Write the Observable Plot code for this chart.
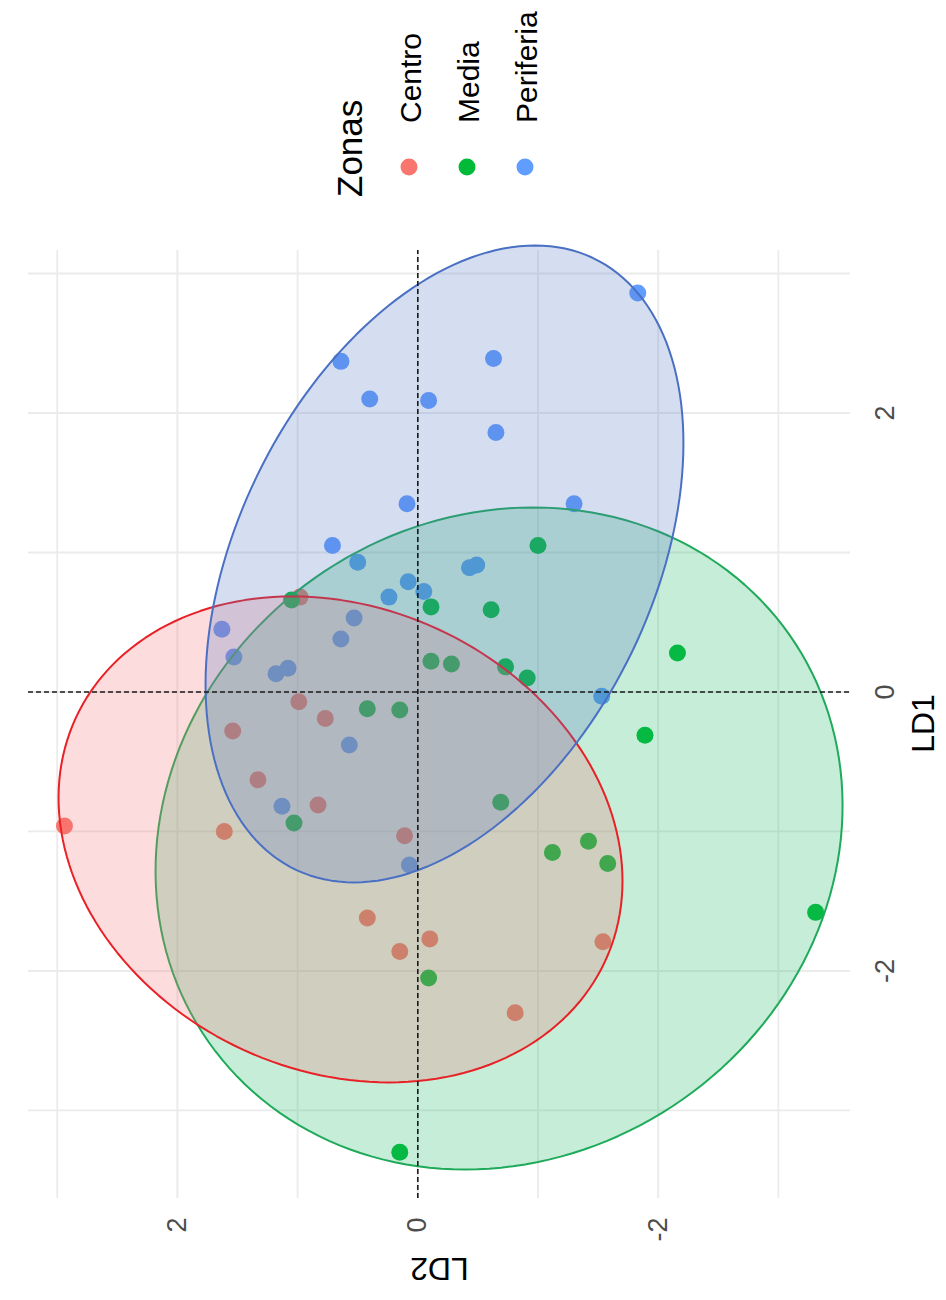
<!DOCTYPE html>
<html>
<head>
<meta charset="utf-8">
<script src="https://cdn.jsdelivr.net/npm/d3@7"></script>
<script src="https://cdn.jsdelivr.net/npm/@observablehq/plot@0.6"></script>
<style>
  html, body { margin: 0; padding: 0; background: #fff; overflow: hidden; }
  #page { position: relative; width: 946px; height: 1300px; overflow: hidden; background: #fff; }
  /* the whole figure is laid out landscape and turned a quarter counter-clockwise */
  #turned { position: absolute; left: 0; top: 0; width: 1300px; height: 946px;
            transform-origin: 0 0; transform: translate(0px, 1300px) rotate(-90deg); }
  #turned > svg { position: absolute; left: 0; top: 0; }
</style>
</head>
<body>
<div id="page"><div id="turned"></div></div>
<script>
// Zones and their point colours
const zonas = ["Centro", "Media", "Periferia"];
const zonaColors = ["#F8766D", "#00BA38", "#619CFF"];

// Discriminant scores per observation
const centroLD1 = [-0.96, 0.68, -0.07, -0.19, -0.28, -0.63, -0.81, -1.00, -1.03, -1.62, -1.86, -1.77, -2.30, -1.79];
const centroLD2 = [2.94, 0.98, 0.99, 0.77, 1.54, 1.33, 0.83, 1.61, 0.11, 0.42, 0.15, -0.10, -0.81, -1.54];

const mediaLD1 = [0.66, 0.61, 0.59, 1.05, 0.22, 0.20, 0.18, 0.10, -0.12, -0.13, -0.94, -0.79, 0.28, -0.31, -1.07, -1.15, -1.23, -2.05, -3.30, -1.58];
const mediaLD2 = [1.05, -0.11, -0.61, -1.00, -0.11, -0.28, -0.73, -0.91, 0.42, 0.15, 1.03, -0.69, -2.16, -1.89, -1.42, -1.12, -1.58, -0.09, 0.15, -3.31];

const periferiaLD1 = [2.86, 2.37, 2.39, 2.10, 2.09, 1.86, 1.35, 1.35, 1.05, 0.93, 0.89, 0.91, 0.79, 0.72, 0.68, 0.53, 0.45, 0.38, 0.25, 0.13, 0.17, -0.03, -0.38, -0.82, -1.24];
const periferiaLD2 = [-1.83, 0.64, -0.63, 0.40, -0.09, -0.65, 0.09, -1.30, 0.71, 0.50, -0.43, -0.49, 0.08, -0.05, 0.24, 0.53, 1.63, 0.64, 1.53, 1.18, 1.08, -1.53, 0.57, 1.13, 0.07];

// Confidence ellipse per zone: centre, spread along each axis, covariance
const ellipseCentreLD1 = [-1.057, -1.050, 0.918];
const ellipseCentreLD2 = [0.643, -0.676, -0.222];
const ellipseSpreadLD1 = [1.742, 2.373, 2.283];
const ellipseSpreadLD2 = [2.346, 2.858, 1.988];
const ellipseCovariance = [0.70, -0.67, -1.72];
const ellipseFill = ["#f37373", "#17b763", "#5777c3"];
const ellipseStroke = ["#e82127", "#1faa5a", "#4a70c4"];
const ellipseDrawOrder = [1, 0, 2];

// Axis ticks and limits
const majorTicks = [-2, 0, 2];
const minorTicks = [-3, -1, 1, 3];
const ld1Limits = [-3.624, 3.172];
const ld2Limits = [-3.600, 3.239];

const points = [
  ...centroLD1.map((v, i) => ({zona: "Centro", LD1: v, LD2: centroLD2[i]})),
  ...mediaLD1.map((v, i) => ({zona: "Media", LD1: v, LD2: mediaLD2[i]})),
  ...periferiaLD1.map((v, i) => ({zona: "Periferia", LD1: v, LD2: periferiaLD2[i]}))
];

// trace the ellipse outline through the Cholesky factor of its covariance
function ellipseOutline(i) {
  const s1 = ellipseSpreadLD1[i], s2 = ellipseSpreadLD2[i];
  const l21 = ellipseCovariance[i] / s1;
  const l22 = Math.sqrt(s2 * s2 - l21 * l21);
  return d3.range(0, 360, 2).map(deg => {
    const t = deg * Math.PI / 180;
    return {
      LD1: ellipseCentreLD1[i] + s1 * Math.cos(t),
      LD2: ellipseCentreLD2[i] + l21 * Math.cos(t) + l22 * Math.sin(t)
    };
  });
}

const font = "'Liberation Sans', Arial, sans-serif";
const grid = "#ebebeb";

const chart = Plot.plot({
  width: 1300,
  height: 946,
  marginLeft: 102,
  marginRight: 250,
  marginTop: 28,
  marginBottom: 96,
  style: {fontFamily: font, fontSize: "27px", background: "transparent", overflow: "visible"},
  x: {domain: ld1Limits},
  y: {domain: ld2Limits},
  color: {domain: zonas, range: zonaColors},
  marks: [
    Plot.ruleX(minorTicks, {stroke: grid, strokeWidth: 1.8}),
    Plot.ruleY(minorTicks, {stroke: grid, strokeWidth: 1.8}),
    Plot.ruleX(majorTicks, {stroke: grid, strokeWidth: 2}),
    Plot.ruleY(majorTicks, {stroke: grid, strokeWidth: 2}),
    Plot.dot(points, {x: "LD1", y: "LD2", fill: "zona", r: 8.5}),
    ...ellipseDrawOrder.map(i => Plot.line(ellipseOutline(i), {
      x: "LD1", y: "LD2", curve: "linear-closed",
      fill: ellipseFill[i], fillOpacity: 0.25,
      stroke: ellipseStroke[i], strokeWidth: 2
    })),
    Plot.ruleX([0], {stroke: "#1a1a1a", strokeWidth: 1.6, strokeDasharray: "5,3"}),
    Plot.ruleY([0], {stroke: "#1a1a1a", strokeWidth: 1.6, strokeDasharray: "5,3"}),
    Plot.axisX(majorTicks, {tickSize: 0, tickPadding: 24, color: "#4d4d4d", label: null, tickFormat: d => String(d)}),
    Plot.axisY(majorTicks, {tickSize: 0, tickPadding: 20, color: "#4d4d4d", label: null, tickFormat: d => String(d)}),
    Plot.text(["LD1"], {text: d => d, frameAnchor: "bottom", textAnchor: "middle", lineAnchor: "top", dy: 61, fontSize: 32, fill: "#000"}),
    Plot.text(["LD2"], {text: d => d, frameAnchor: "left", textAnchor: "middle", lineAnchor: "top", rotate: -90, dx: -83, fontSize: 32, fill: "#000"})
  ]
});
document.getElementById("turned").appendChild(chart);

// legend beside the panel
const legend = d3.select("#turned").append("svg")
  .attr("width", 1300).attr("height", 946)
  .attr("font-family", font);
legend.append("text").attr("x", 1103).attr("y", 362).attr("font-size", 35).attr("fill", "#000").text("Zonas");
zonas.forEach((z, i) => {
  const cy = 409 + i * 58;
  legend.append("circle").attr("cx", 1133).attr("cy", cy).attr("r", 8.5).attr("fill", zonaColors[i]);
  legend.append("text").attr("x", 1177).attr("y", cy + 12).attr("font-size", 30).attr("fill", "#000").text(z);
});
</script>
</body>
</html>
